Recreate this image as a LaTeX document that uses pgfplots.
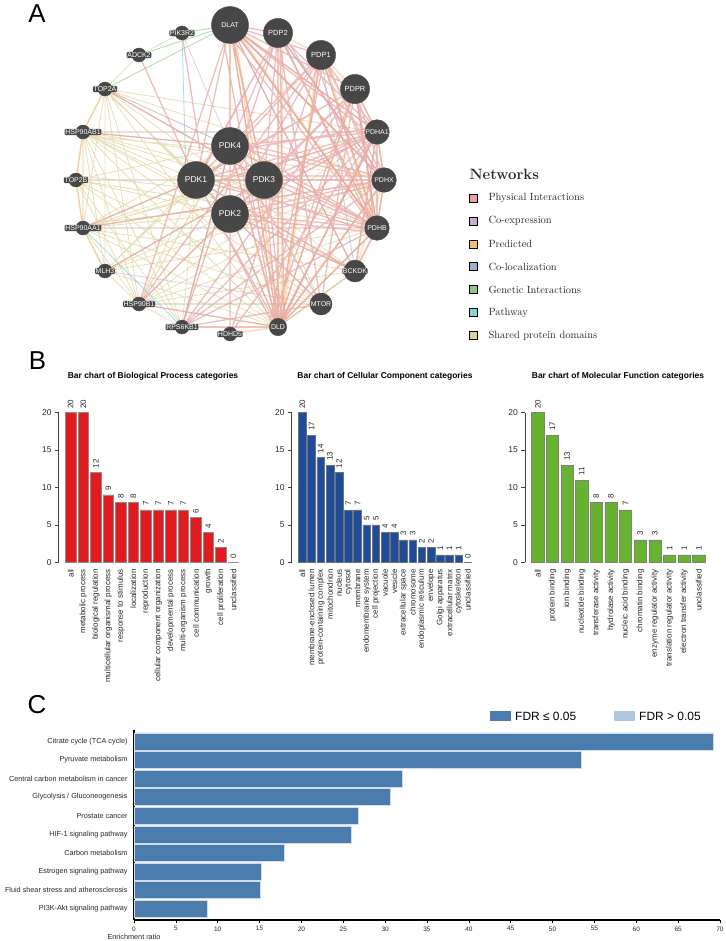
\documentclass[border=0pt]{standalone}
\usepackage{fontspec}
\usepackage{pgfplots}
\pgfplotsset{compat=1.18}
\newfontfamily\arial{Liberation Sans}

\definecolor{nodegray}{HTML}{474747}
\definecolor{cphys}{HTML}{E8A0A0}
\definecolor{ccoex}{HTML}{C8AAD2}
\definecolor{cpred}{HTML}{F2BE78}
\definecolor{ccoloc}{HTML}{9BAFD7}
\definecolor{cgen}{HTML}{8CC882}
\definecolor{cpath}{HTML}{8CD2D7}
\definecolor{cshared}{HTML}{DCD296}
\definecolor{bpred}{HTML}{E41A1C}
\definecolor{ccblue}{HTML}{1E4C9C}
\definecolor{mfgreen}{HTML}{66B32E}
\definecolor{fdrdark}{HTML}{4A7DAE}
\definecolor{fdrlight}{HTML}{AFC6DF}

\pgfplotsset{
  bbar/.style={
    scale only axis, width=187bp, height=149.6bp, ymin=0, ymax=20,
    axis x line*=bottom, axis y line*=left,
    x axis line style={draw=none},
    y axis line style={black!75, line width=0.6pt},
    xtick=data, ytick={0,5,10,15,20},
    tick align=outside, major tick length=3.5bp,
    ytick style={black!75, line width=0.6pt}, xtick style={draw=none},
    /pgf/number format/assume math mode=true,
    yticklabel style={font=\arial\fontsize{8.5}{10}\selectfont, text=black!85},
    xticklabel style={rotate=90, anchor=east, font=\arial\fontsize{8}{9}\selectfont, text=black!85},
    nodes near coords,
    every node near coord/.append style={rotate=90, anchor=west, inner xsep=4bp,
      font=\arial\fontsize{8}{9}\selectfont, text=black!85},
    clip=false},
  netnode/.style={only marks, mark=*, mark options={fill=nodegray, draw=nodegray},
    nodes near coords, point meta=explicit symbolic, nodes near coords align={center},
    every node near coord/.append style={font=\arial\fontsize{7}{8}\selectfont, text=white}},
  boxlabel/.style={every node near coord/.append style={fill=nodegray, rounded corners=1.2pt, inner sep=0.7pt}},
  edge/.style={no marks, unbounded coords=jump},
}

\begin{document}
\begin{tikzpicture}
\useasboundingbox (0,0) rectangle (726bp,941bp);

% ---------- panel A (network) and all free text, in pixel coordinates
\begin{axis}[at={(363bp,470.5bp)}, anchor=center, scale only axis,
  width=726bp, height=941bp, xmin=0, xmax=726, ymin=0, ymax=941,
  y dir=reverse, axis lines=none, ticks=none, clip=false]

% shared protein domains
\addplot[edge, cshared, line width=0.8pt, opacity=0.7] coordinates {
(105,89)(196,180) (nan,nan) (105,89)(230,214) (nan,nan) (105,89)(264,180) (nan,nan) (105,89)(230,146) (nan,nan)
(105,89)(384,180) (nan,nan) (105,89)(139,304) (nan,nan) (105,89)(105,271) (nan,nan) (105,89)(83,228) (nan,nan)
(105,89)(278,327) (nan,nan) (105,89)(182,327) (nan,nan)
(83,132)(196,180) (nan,nan) (83,132)(230,214) (nan,nan) (83,132)(264,180) (nan,nan) (83,132)(230,146) (nan,nan)
(83,132)(377,132) (nan,nan) (83,132)(377,228) (nan,nan) (83,132)(139,304) (nan,nan) (83,132)(105,271) (nan,nan)
(83,132)(182,327) (nan,nan) (83,132)(278,327) (nan,nan) (83,132)(355,271) (nan,nan)
(76,180)(196,180) (nan,nan) (76,180)(264,180) (nan,nan) (76,180)(230,146) (nan,nan) (76,180)(230,214) (nan,nan)
(76,180)(384,180) (nan,nan) (76,180)(139,304) (nan,nan) (76,180)(182,327) (nan,nan) (76,180)(321,304) (nan,nan)
(83,228)(196,180) (nan,nan) (83,228)(230,214) (nan,nan) (83,228)(264,180) (nan,nan) (83,228)(230,146) (nan,nan)
(83,228)(377,228) (nan,nan) (83,228)(377,132) (nan,nan) (83,228)(355,271) (nan,nan) (83,228)(278,327) (nan,nan)
(83,228)(139,304) (nan,nan)
(105,271)(196,180) (nan,nan) (105,271)(230,214) (nan,nan) (105,271)(264,180) (nan,nan) (105,271)(230,146) (nan,nan)
(105,271)(384,180) (nan,nan) (105,271)(139,304) (nan,nan)
(139,304)(196,180) (nan,nan) (139,304)(230,214) (nan,nan) (139,304)(264,180) (nan,nan) (139,304)(230,146) (nan,nan)
(139,304)(377,228) (nan,nan) (139,304)(384,180) (nan,nan) (139,304)(321,304) (nan,nan) (139,304)(377,132) (nan,nan)
(182,327)(230,146) (nan,nan) (182,327)(196,180) (nan,nan) (196,180)(384,180) (nan,nan) (230,214)(377,132) (nan,nan)
(230,146)(377,228) (nan,nan) (196,180)(355,271) (nan,nan) (230,214)(355,271) (nan,nan) (264,180)(321,304) (nan,nan)
(196,180)(321,304) (nan,nan)
(105,89)(377,132) (nan,nan) (83,132)(384,180) (nan,nan) (76,180)(377,228) (nan,nan) (83,228)(384,180) (nan,nan)
(105,271)(377,228) (nan,nan) (139,304)(355,271) (nan,nan) (83,132)(321,304) (nan,nan) (76,180)(278,327) (nan,nan)
(105,89)(355,271) (nan,nan) (83,228)(321,304) (nan,nan) (105,271)(278,327) (nan,nan) (139,304)(278,327) (nan,nan)
(108,94)(192,172) (nan,nan) (88,136)(226,150) (nan,nan) (80,176)(190,188) (nan,nan) (88,224)(226,208) (nan,nan)
(110,266)(192,188) (nan,nan) (142,298)(226,152) (nan,nan) (110,94)(226,208) (nan,nan) (88,228)(260,176) (nan,nan)
(105,89)(83,132) (nan,nan) (83,132)(76,180) (nan,nan) (76,180)(83,228) (nan,nan) (83,228)(105,271) (nan,nan)
(105,271)(139,304) (nan,nan) (139,304)(182,327) (nan,nan) (105,89)(139,55) (nan,nan) (139,55)(182,33)
};
% co-expression
\addplot[edge, ccoex, line width=0.6pt, opacity=0.7] coordinates {
(83,132)(377,132) (nan,nan) (105,89)(230,146) (nan,nan) (83,228)(377,228) (nan,nan) (105,271)(321,304) (nan,nan)
(76,180)(384,180) (nan,nan) (182,33)(230,146)
};
% co-localization
\addplot[edge, ccoloc, line width=0.7pt, opacity=0.7] coordinates {
(278,33)(384,180) (nan,nan) (377,132)(377,228) (nan,nan) (230,25)(355,271)
};
% genetic interactions
\addplot[edge, cgen, line width=0.8pt, opacity=0.7] coordinates {
(105,89)(230,25) (nan,nan) (182,33)(230,25) (nan,nan) (230,214)(278,327) (nan,nan) (355,271)(278,327) (nan,nan)
(139,304)(321,304) (nan,nan) (139,55)(230,25)
};
% pathway
\addplot[edge, cpath, line width=0.8pt, opacity=0.75] coordinates {
(182,33)(186,180) (nan,nan) (230,25)(384,180) (nan,nan) (355,89)(377,228) (nan,nan) (230,25)(377,228) (nan,nan)
(321,55)(355,271) (nan,nan) (278,327)(377,132) (nan,nan) (83,228)(182,327) (nan,nan) (182,327)(230,146) (nan,nan)
(278,33)(384,180)
};
% predicted
\addplot[edge, cpred, line width=1.5pt, opacity=0.5] coordinates {
(230,25)(377,228) (nan,nan) (230,25)(278,327) (nan,nan) (230,25)(384,180) (nan,nan) (230,25)(377,132) (nan,nan)
(230,25)(230,146) (nan,nan) (230,25)(264,180) (nan,nan)
(278,33)(278,327) (nan,nan) (278,33)(377,228) (nan,nan) (321,55)(377,228) (nan,nan) (321,55)(278,327) (nan,nan)
(355,89)(278,327) (nan,nan) (355,89)(377,228) (nan,nan)
(377,132)(278,327) (nan,nan) (384,180)(278,327) (nan,nan) (377,228)(278,327) (nan,nan) (278,327)(355,271) (nan,nan)
(355,271)(377,228) (nan,nan) (355,271)(384,180) (nan,nan) (355,271)(377,132) (nan,nan) (278,327)(230,146) (nan,nan)
(377,132)(384,180) (nan,nan) (384,180)(377,228) (nan,nan) (377,228)(355,271) (nan,nan) (355,89)(377,132) (nan,nan)
(321,55)(355,89) (nan,nan) (278,33)(321,55) (nan,nan)
(105,89)(83,132) (nan,nan) (83,132)(76,180) (nan,nan) (76,180)(83,228) (nan,nan) (83,228)(105,271) (nan,nan)
(83,132)(83,228) (nan,nan) (182,327)(278,327) (nan,nan) (230,334)(278,327)
};
\addplot[edge, cpred, line width=2.4pt, opacity=0.45] coordinates {
(234,28)(374,224) (nan,nan) (234,30)(280,322) (nan,nan) (282,36)(282,322) (nan,nan) (318,60)(282,322) (nan,nan)
(324,58)(374,224)
};
% physical interactions
\addplot[edge, cphys, line width=1.3pt, opacity=0.7] coordinates {
(230,25)(196,180) (nan,nan) (230,25)(230,214) (nan,nan) (230,25)(264,180) (nan,nan) (230,25)(230,146) (nan,nan)
(230,25)(377,132) (nan,nan) (230,25)(384,180) (nan,nan) (230,25)(377,228) (nan,nan) (230,25)(278,327) (nan,nan)
(230,25)(321,55) (nan,nan) (230,25)(278,33) (nan,nan) (230,25)(355,89) (nan,nan)
(278,33)(377,132) (nan,nan) (278,33)(377,228) (nan,nan) (278,33)(384,180) (nan,nan) (278,33)(278,327) (nan,nan)
(278,33)(196,180) (nan,nan) (278,33)(264,180) (nan,nan) (278,33)(230,146) (nan,nan)
(321,55)(377,132) (nan,nan) (321,55)(377,228) (nan,nan) (321,55)(384,180) (nan,nan) (321,55)(278,327) (nan,nan)
(321,55)(196,180) (nan,nan) (321,55)(230,214) (nan,nan) (321,55)(230,146) (nan,nan)
(355,89)(377,132) (nan,nan) (355,89)(377,228) (nan,nan) (355,89)(278,327) (nan,nan) (355,89)(196,180) (nan,nan)
(355,89)(230,214) (nan,nan) (355,89)(384,180) (nan,nan)
(377,132)(196,180) (nan,nan) (377,132)(230,214) (nan,nan) (377,132)(264,180) (nan,nan) (377,132)(230,146) (nan,nan)
(377,132)(377,228) (nan,nan) (377,132)(278,327) (nan,nan) (377,132)(384,180) (nan,nan)
(384,180)(196,180) (nan,nan) (384,180)(230,214) (nan,nan) (384,180)(264,180) (nan,nan) (384,180)(230,146) (nan,nan)
(384,180)(278,327) (nan,nan) (384,180)(377,228) (nan,nan)
(377,228)(196,180) (nan,nan) (377,228)(230,214) (nan,nan) (377,228)(264,180) (nan,nan) (377,228)(230,146) (nan,nan)
(377,228)(278,327) (nan,nan) (377,228)(355,271) (nan,nan)
(278,327)(196,180) (nan,nan) (278,327)(230,214) (nan,nan) (278,327)(264,180) (nan,nan) (278,327)(230,146) (nan,nan)
(196,180)(230,214) (nan,nan) (196,180)(264,180) (nan,nan) (196,180)(230,146) (nan,nan) (230,214)(264,180) (nan,nan)
(230,214)(230,146) (nan,nan) (264,180)(230,146) (nan,nan)
(139,55)(196,180) (nan,nan) (182,33)(200,150) (nan,nan) (83,228)(196,180) (nan,nan) (83,132)(230,146) (nan,nan)
(139,304)(278,327) (nan,nan) (182,327)(278,327) (nan,nan) (182,327)(377,228) (nan,nan) (182,327)(321,304) (nan,nan)
(230,334)(230,214) (nan,nan) (182,327)(230,146) (nan,nan) (105,271)(264,180) (nan,nan) (83,228)(384,180) (nan,nan)
(105,89)(264,180) (nan,nan) (182,327)(377,132) (nan,nan) (139,304)(230,214) (nan,nan) (355,271)(230,214) (nan,nan)
(355,271)(377,132) (nan,nan) (321,304)(196,180) (nan,nan)
(236,30)(372,135) (nan,nan) (226,30)(372,225) (nan,nan) (234,28)(380,176) (nan,nan) (222,32)(275,322) (nan,nan)
(282,38)(372,226) (nan,nan) (275,38)(200,176) (nan,nan) (284,36)(380,184) (nan,nan) (280,40)(284,322) (nan,nan)
(316,60)(372,226) (nan,nan) (324,60)(270,320) (nan,nan) (318,58)(200,186) (nan,nan) (326,60)(380,184) (nan,nan)
(352,94)(272,322) (nan,nan) (350,92)(200,176) (nan,nan) (358,94)(374,224) (nan,nan) (350,95)(236,210) (nan,nan)
(372,136)(200,186) (nan,nan) (372,128)(236,150) (nan,nan) (372,136)(268,184) (nan,nan) (372,138)(282,322) (nan,nan)
(380,176)(200,176) (nan,nan) (380,184)(236,218) (nan,nan) (380,176)(234,142) (nan,nan) (380,186)(282,322) (nan,nan)
(372,232)(200,176) (nan,nan) (372,224)(236,142) (nan,nan) (372,232)(236,218) (nan,nan) (372,224)(268,176) (nan,nan)
(272,322)(200,186) (nan,nan) (284,322)(236,150) (nan,nan) (282,322)(268,186) (nan,nan)
(182,327)(355,89) (nan,nan) (139,304)(321,55) (nan,nan) (230,334)(377,132) (nan,nan) (182,327)(384,180) (nan,nan)
(321,304)(230,146) (nan,nan) (355,271)(196,180) (nan,nan) (321,304)(278,33) (nan,nan) (355,271)(230,25) (nan,nan)
(230,25)(139,304) (nan,nan) (278,33)(182,327) (nan,nan) (321,55)(230,334) (nan,nan) (355,89)(321,304)
};

% nodes
\addplot[netnode, mark size=18.5bp] table[meta=lab] {
x y lab
230 25 DLAT
};
\addplot[netnode, mark size=18.5bp,
  every node near coord/.append style={font=\arial\fontsize{8.5}{10}\selectfont}] table[meta=lab] {
x y lab
230 146 PDK4
196 180 PDK1
264 180 PDK3
230 214 PDK2
};
\addplot[netnode, mark size=14.6bp,
  every node near coord/.append style={font=\arial\fontsize{7.5}{9}\selectfont}] table[meta=lab] {
x y lab
278 33 PDP2
321 55 PDP1
355 89 PDPR
};
\addplot[netnode, mark size=12.3bp] table[meta=lab] {
x y lab
377 132 PDHA1
384 180 PDHX
377 228 PDHB
};
\addplot[netnode, boxlabel, mark size=11bp] table[meta=lab] {
x y lab
355 271 BCKDK
321 304 MTOR
};
\addplot[netnode, boxlabel, mark size=8.7bp] table[meta=lab] {
x y lab
278 327 DLD
};
\addplot[netnode, boxlabel, mark size=7bp] table[meta=lab] {
x y lab
230 334 HDHD5
182 327 RPS6KB1
139 304 HSP90B1
105 271 MLH3
83 228 HSP90AA1
76 180 TOP2B
83 132 HSP90AB1
105 89 TOP2A
139 55 ADCK2
182 33 PIK3R2
};

% network legend swatches
\addplot[only marks, mark=square*, mark size=4bp, mark options={draw=none, fill=cphys}] coordinates {(473,198)};
\addplot[only marks, mark=square*, mark size=4bp, mark options={draw=none, fill=ccoex}] coordinates {(473,221)};
\addplot[only marks, mark=square*, mark size=4bp, mark options={draw=none, fill=cpred}] coordinates {(473,244)};
\addplot[only marks, mark=square*, mark size=4bp, mark options={draw=none, fill=ccoloc}] coordinates {(473,266.5)};
\addplot[only marks, mark=square*, mark size=4bp, mark options={draw=none, fill=cgen}] coordinates {(473,289.5)};
\addplot[only marks, mark=square*, mark size=4bp, mark options={draw=none, fill=cpath}] coordinates {(473,312.5)};
\addplot[only marks, mark=square*, mark size=4bp, mark options={draw=none, fill=cshared}] coordinates {(473,335.5)};

\node[anchor=west, font=\bfseries\fontsize{15}{18}\selectfont, text=black!85] at (axis cs:466,174) {Networks};
\node[anchor=west, font=\fontsize{10.5}{12}\selectfont, text=black!85] at (axis cs:485,198) {Physical Interactions};
\node[anchor=west, font=\fontsize{10.5}{12}\selectfont, text=black!85] at (axis cs:485,221) {Co-expression};
\node[anchor=west, font=\fontsize{10.5}{12}\selectfont, text=black!85] at (axis cs:485,244) {Predicted};
\node[anchor=west, font=\fontsize{10.5}{12}\selectfont, text=black!85] at (axis cs:485,266.5) {Co-localization};
\node[anchor=west, font=\fontsize{10.5}{12}\selectfont, text=black!85] at (axis cs:485,289.5) {Genetic Interactions};
\node[anchor=west, font=\fontsize{10.5}{12}\selectfont, text=black!85] at (axis cs:485,312.5) {Pathway};
\node[anchor=west, font=\fontsize{10.5}{12}\selectfont, text=black!85] at (axis cs:485,335.5) {Shared protein domains};

% panel letters
\node[font=\arial\fontsize{26}{30}\selectfont] at (axis cs:37,14) {A};
\node[font=\arial\fontsize{26}{30}\selectfont] at (axis cs:37.5,361) {B};
\node[font=\arial\fontsize{26}{30}\selectfont] at (axis cs:37,704.5) {C};

% titles of panel B
\node[font=\arial\bfseries\fontsize{8.5}{10}\selectfont] at (axis cs:153,376) {Bar chart of Biological Process categories};
\node[font=\arial\bfseries\fontsize{8.5}{10}\selectfont] at (axis cs:385,376) {Bar chart of Cellular Component categories};
\node[font=\arial\bfseries\fontsize{8.5}{10}\selectfont] at (axis cs:618,376) {Bar chart of Molecular Function categories};

% legend of panel C
\addplot[fill=fdrdark, draw=none] coordinates {(490,711) (511,711) (511,721) (490,721)};
\addplot[fill=fdrlight, draw=none] coordinates {(614,711) (635,711) (635,721) (614,721)};
\node[anchor=west, font=\arial\fontsize{12}{14}\selectfont, inner xsep=2bp] at (axis cs:513,716) {FDR ≤ 0.05};
\node[anchor=west, font=\arial\fontsize{12}{14}\selectfont, inner xsep=2bp] at (axis cs:637,716) {FDR > 0.05};
\node[font=\arial\fontsize{7.3}{9}\selectfont, text=black!85] at (axis cs:134,937) {Enrichment ratio};
\end{axis}

% ---------- panel B: biological process
\begin{axis}[bbar, at={(58.6bp,378.7bp)}, anchor=south west, xmin=-0.97, xmax=13.97,
  xticklabels={all, metabolic process, biological regulation, multicellular organismal process,
    response to stimulus, localization, reproduction, cellular component organization,
    developmental process, multi-organism process, cell communication, growth,
    cell proliferation, unclassified}]
\addplot[ybar, bar width=0.833, fill=bpred, draw=black!45, line width=0.5pt] coordinates {
(0,20) (1,20) (2,12) (3,9) (4,8) (5,8) (6,7) (7,7) (8,7) (9,7) (10,6) (11,4) (12,2) (13,0)};
\end{axis}

% ---------- panel B: cellular component
\begin{axis}[bbar, at={(291.6bp,378.7bp)}, anchor=south west, xmin=-1.17, xmax=19.17,
  xticklabels={all, membrane-enclosed lumen, protein-containing complex, mitochondrion, nucleus,
    cytosol, membrane, endomembrane system, cell projection, vacuole, vesicle,
    extracellular space, chromosome, endoplasmic reticulum, envelope, Golgi apparatus,
    extracellular matrix, cytoskeleton, unclassified}]
\addplot[ybar, bar width=0.833, fill=ccblue, draw=black!55, line width=0.5pt] coordinates {
(0,20) (1,17) (2,14) (3,13) (4,12) (5,7) (6,7) (7,5) (8,5) (9,4) (10,4) (11,3) (12,3)
(13,2) (14,2) (15,1) (16,1) (17,1) (18,0)};
\end{axis}

% ---------- panel B: molecular function
\begin{axis}[bbar, at={(524.8bp,378.7bp)}, anchor=south west, xmin=-0.89, xmax=11.89,
  xticklabels={all, protein binding, ion binding, nucleotide binding, transferase activity,
    hydrolase activity, nucleic acid binding, chromatin binding, enzyme regulator activity,
    translation regulator activity, electron transfer activity, unclassified}]
\addplot[ybar, bar width=0.833, fill=mfgreen, draw=black!50, line width=0.5pt] coordinates {
(0,20) (1,17) (2,13) (3,11) (4,8) (5,8) (6,7) (7,3) (8,3) (9,1) (10,1) (11,1)};
\end{axis}

% ---------- panel C: enrichment ratio
\begin{axis}[at={(134bp,21bp)}, anchor=south west, scale only axis,
  width=586bp, height=190bp, xmin=0, xmax=70, ymin=-0.61, ymax=9.61,
  axis x line*=bottom, axis y line*=left,
  axis line style={black, line width=1.6pt},
  xtick={0,5,...,70}, ytick={0,...,9},
  yticklabels={PI3K-Akt signaling pathway, Fluid shear stress and atherosclerosis,
    Estrogen signaling pathway, Carbon metabolism, HIF-1 signaling pathway,
    Prostate cancer, Glycolysis / Gluconeogenesis, Central carbon metabolism in cancer,
    Pyruvate metabolism, Citrate cycle (TCA cycle)},
  tick align=outside, major tick length=3bp,
  xtick style={black, line width=0.6pt}, ytick style={draw=none},
  /pgf/number format/assume math mode=true,
  xticklabel style={font=\arial\fontsize{6.5}{8}\selectfont, text=black!85},
  yticklabel style={font=\arial\fontsize{7.3}{9}\selectfont, text=black!85}]
\addplot[xbar, bar width=0.914, fill=fdrdark, draw=fdrlight!60, line width=0.5pt] coordinates {
(8.8,0) (15.05,1) (15.2,2) (17.9,3) (26.0,4) (26.8,5) (30.6,6) (32.0,7) (53.4,8) (69.2,9)};
\end{axis}
\end{tikzpicture}
\end{document}
